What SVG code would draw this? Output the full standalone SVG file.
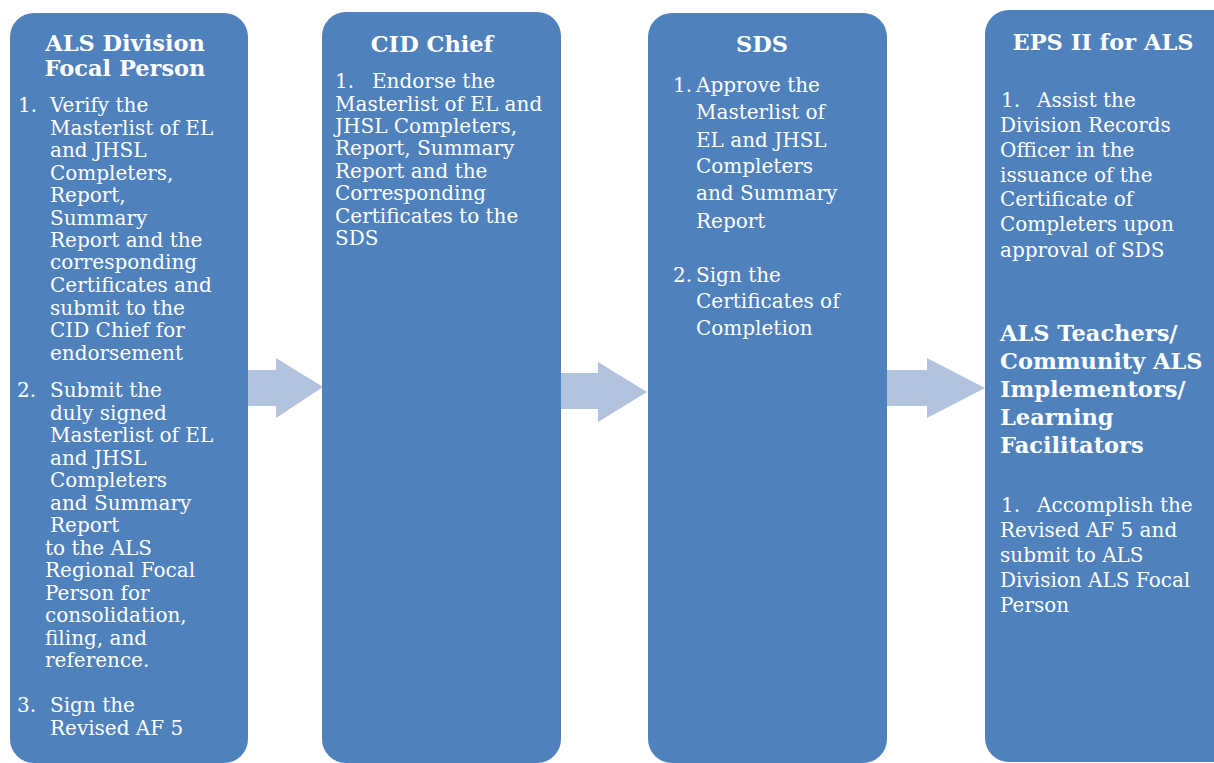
<svg xmlns="http://www.w3.org/2000/svg" width="1214" height="763" viewBox="0 0 1214 763">
<style>
.box{fill:#4F81BD;}
.arr{fill:#B3C2DD;}
text{fill:#FFFFFF;font-family:"DejaVu Serif","Liberation Serif",serif;}
.t{font-size:22.5px;font-weight:bold;}
.b{font-size:20px;}
.c{text-anchor:middle;}
</style>
<rect width="1214" height="763" fill="#FFFFFF"/>
<g id="connectors">
<polygon class="arr" points="248,370 276,370 276,358 323,387 276,418 276,406 248,406"/>
<polygon class="arr" points="561,373 598,373 598,362 647,392 598,422 598,409 561,409"/>
<polygon class="arr" points="887,370 927,370 927,358 985,388 927,418 927,406 887,406"/>
</g>
<g id="node-als-division">
<rect class="box" x="10" y="13" width="238" height="750" rx="24"/>
<text class="t c" x="125" y="51">ALS Division</text>
<text class="t c" x="125" y="76">Focal Person</text>
<text class="b" x="18" y="112">1.</text>
<text class="b" x="50" y="112">Verify the</text>
<text class="b" x="50" y="135">Masterlist of EL</text>
<text class="b" x="50" y="157">and JHSL</text>
<text class="b" x="50" y="180">Completers,</text>
<text class="b" x="50" y="202">Report,</text>
<text class="b" x="50" y="225">Summary</text>
<text class="b" x="50" y="247">Report and the</text>
<text class="b" x="50" y="269">corresponding</text>
<text class="b" x="50" y="292">Certificates and</text>
<text class="b" x="50" y="315">submit to the</text>
<text class="b" x="50" y="337">CID Chief for</text>
<text class="b" x="50" y="360">endorsement</text>
<text class="b" x="17" y="397">2.</text>
<text class="b" x="50" y="397">Submit the</text>
<text class="b" x="50" y="420">duly signed</text>
<text class="b" x="50" y="442">Masterlist of EL</text>
<text class="b" x="50" y="465">and JHSL</text>
<text class="b" x="50" y="487">Completers</text>
<text class="b" x="50" y="510">and Summary</text>
<text class="b" x="50" y="532">Report</text>
<text class="b" x="45" y="555">to the ALS</text>
<text class="b" x="45" y="577">Regional Focal</text>
<text class="b" x="45" y="600">Person for</text>
<text class="b" x="45" y="622">consolidation,</text>
<text class="b" x="45" y="645">filing, and</text>
<text class="b" x="45" y="667">reference.</text>
<text class="b" x="17" y="712">3.</text>
<text class="b" x="50" y="712">Sign the</text>
<text class="b" x="50" y="735">Revised AF 5</text>
</g>
<g id="node-cid-chief">
<rect class="box" x="322" y="12" width="239" height="751" rx="24"/>
<text class="t c" x="432" y="52">CID Chief</text>
<text class="b" x="335" y="88">1.</text>
<text class="b" x="372" y="88">Endorse the</text>
<text class="b" x="335" y="111">Masterlist of EL and</text>
<text class="b" x="335" y="133">JHSL Completers,</text>
<text class="b" x="335" y="155">Report, Summary</text>
<text class="b" x="335" y="178">Report and the</text>
<text class="b" x="335" y="200">Corresponding</text>
<text class="b" x="335" y="223">Certificates to the</text>
<text class="b" x="335" y="245">SDS</text>
</g>
<g id="node-sds">
<rect class="box" x="648" y="13" width="239" height="750" rx="24"/>
<text class="t c" x="762" y="52">SDS</text>
<text class="b" x="673" y="92">1.</text>
<text class="b" x="696" y="92">Approve the</text>
<text class="b" x="696" y="119">Masterlist of</text>
<text class="b" x="696" y="147">EL and JHSL</text>
<text class="b" x="696" y="173">Completers</text>
<text class="b" x="696" y="200">and Summary</text>
<text class="b" x="696" y="228">Report</text>
<text class="b" x="673" y="282">2.</text>
<text class="b" x="696" y="282">Sign the</text>
<text class="b" x="696" y="308">Certificates of</text>
<text class="b" x="696" y="335">Completion</text>
</g>
<g id="node-eps">
<rect class="box" x="985" y="10" width="260" height="752" rx="24"/>
<text class="t c" x="1103" y="50">EPS II for ALS</text>
<text class="b" x="1001" y="107">1.</text>
<text class="b" x="1037" y="107">Assist the</text>
<text class="b" x="1000" y="132">Division Records</text>
<text class="b" x="1000" y="157">Officer in the</text>
<text class="b" x="1000" y="182">issuance of the</text>
<text class="b" x="1000" y="206">Certificate of</text>
<text class="b" x="1000" y="231">Completers upon</text>
<text class="b" x="1000" y="257">approval of SDS</text>
<text class="t" x="1000" y="341">ALS Teachers/</text>
<text class="t" x="1000" y="369">Community ALS</text>
<text class="t" x="1000" y="397">Implementors/</text>
<text class="t" x="1000" y="425">Learning</text>
<text class="t" x="1000" y="453">Facilitators</text>
<text class="b" x="1001" y="512">1.</text>
<text class="b" x="1037" y="512">Accomplish the</text>
<text class="b" x="1000" y="537">Revised AF 5 and</text>
<text class="b" x="1000" y="562">submit to ALS</text>
<text class="b" x="1000" y="587">Division ALS Focal</text>
<text class="b" x="1000" y="612">Person</text>
</g>
</svg>
